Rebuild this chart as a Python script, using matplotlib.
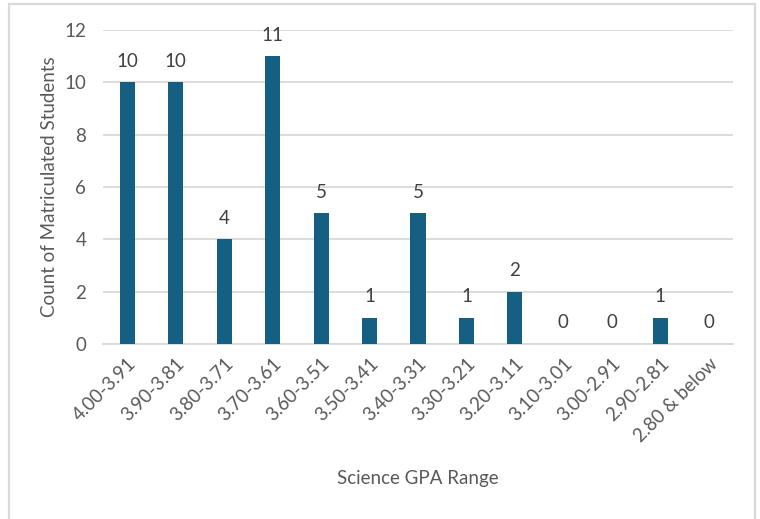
import matplotlib.pyplot as plt
from matplotlib.patches import Rectangle

# Data
gpa_ranges = ["4.00-3.91", "3.90-3.81", "3.80-3.71", "3.70-3.61", "3.60-3.51",
              "3.50-3.41", "3.40-3.31", "3.30-3.21", "3.20-3.11", "3.10-3.01",
              "3.00-2.91", "2.90-2.81", "2.80 & below"]
counts = [10, 10, 4, 11, 5, 1, 5, 1, 2, 0, 0, 1, 0]

plt.rcParams["font.family"] = ["Lato", "DejaVu Sans"]

fig = plt.figure(figsize=(7.6, 5.19), dpi=100)
ax = fig.add_axes([103 / 760, 1 - 344 / 519, 630 / 760, 314 / 519])

x = range(len(gpa_ranges))
bars = ax.bar(x, counts, width=0.31, color="#156082", zorder=3)

# value labels
for xi, v in zip(x, counts):
    ax.annotate(str(v), (xi, v), xytext=(0, 9), textcoords="offset points",
                ha="center", va="bottom", fontsize=13.5, color="#404040")

ax.set_xlim(-0.5, len(gpa_ranges) - 0.5)
ax.set_ylim(0, 12)
ax.set_yticks(range(0, 13, 2))
ax.set_xticks(list(x))
ax.set_xticklabels(gpa_ranges, rotation=45, ha="right", rotation_mode="anchor",
                   fontsize=13.5, color="#595959")
ax.tick_params(axis="y", length=0, pad=12, labelsize=13.5, labelcolor="#595959")
ax.tick_params(axis="x", length=0, pad=8)

ax.grid(axis="y", color="#d9d9d9", linewidth=1.3, zorder=0)
for s in ["top", "right", "left"]:
    ax.spines[s].set_visible(False)
ax.spines["bottom"].set_color("#d9d9d9")
ax.spines["bottom"].set_linewidth(1.3)

ax.set_xlabel("Science GPA Range", fontsize=13.5, color="#595959", labelpad=0)
ax.xaxis.set_label_coords(0.5, -0.40)
ax.set_ylabel("Count of Matriculated Students", fontsize=13.5, color="#595959")
ax.yaxis.set_label_coords(-0.072, 0.5)

# chart frame
fig.patches.append(Rectangle((9 / 760, -0.05), 746 / 760, 1.05 - 4 / 519,
                             transform=fig.transFigure, fill=False,
                             edgecolor="#d9d9d9", linewidth=1.6))

plt.savefig("out.png", dpi=100)
